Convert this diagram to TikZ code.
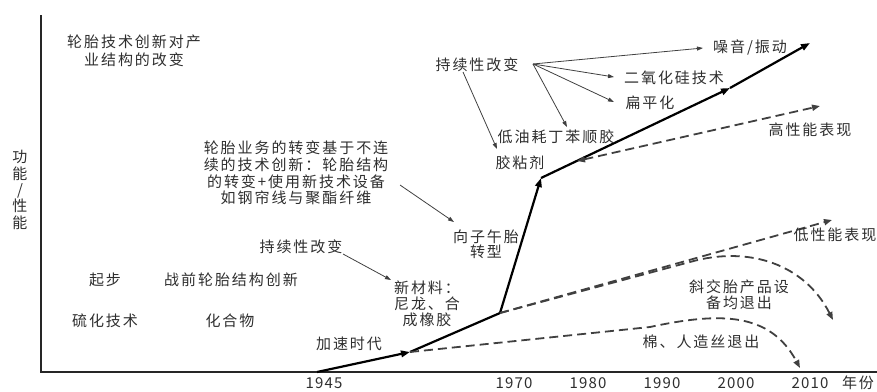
\documentclass[tikz,border=0pt]{standalone}
\usepackage{fontspec}
\usetikzlibrary{arrows.meta}
\newfontfamily\cjk{Noto Sans CJK SC}[LetterSpace=13]
\newfontfamily\cjknum{Noto Sans CJK SC}[LetterSpace=8]
\begin{document}
\begin{tikzpicture}[x=1pt,y=-1pt,
  lbl/.style={font=\cjk\fontsize{15}{17}\selectfont, text=black!82, inner sep=0pt, align=center},
  yr/.style={font=\cjknum\fontsize{15}{17}\selectfont, text=black!82, inner sep=0pt},
  axisline/.style={line width=2.4pt, black!85, line join=miter},
  mainline/.style={line width=2.2pt, black},
  mtip/.style={-{Triangle[length=9pt,width=6.5pt]}},
  dashline/.style={line width=1.8pt, black!75, dash pattern=on 9pt off 5pt},
  dtip/.style={-{Triangle[length=8pt,width=6pt]}},
  note/.style={line width=0.8pt, black!75, -{Triangle[length=6pt,width=4pt]}}
]
\useasboundingbox (0,0) rectangle (877,391);
% axes
\coordinate (ytop) at (41,15);
\coordinate (O) at (41,372);
\coordinate (xend) at (877,372);
\draw[axisline] (ytop) -- (O) -- (xend);

% year labels
\node[yr] (y1945) at (324,383) {1945};
\node[yr] (y1970) at (514,383) {1970};
\node[yr] (y1980) at (588,383) {1980};
\node[yr] (y1990) at (662,383) {1990};
\node[yr] (y2000) at (736,383) {2000};
\node[yr] (y2010) at (810,383) {2010};
\node[lbl] (nian) at (858,383) {年份};

% y axis label
\node[lbl, font=\cjk\fontsize{15}{16.3}\selectfont] (ylab) at (20,190) {功\\能\\/\\性\\能};

% main solid line
\coordinate (p0) at (317,372);
\coordinate (p1) at (410,352);
\coordinate (p2) at (500,313);
\coordinate (p3) at (541,178);
\coordinate (p4) at (730,88);
\coordinate (p5) at (810,43);
\draw[mainline, mtip] (p0) -- (p1);
\draw[mainline] (p1) -- (p2);
\draw[mainline, mtip] (p2) -- (p3);
\draw[mainline, mtip] (p3) -- (p4);
\draw[mainline, mtip] (p4) -- (p5);

% dashed lines
\coordinate (h0) at (577,161);
\coordinate (h1) at (820,106);
\draw[dashline, {Triangle[length=8pt,width=6pt]}-{Triangle[length=8pt,width=6pt]}] (h0) -- (h1);
\coordinate (lA) at (800,368);
\draw[dashline, dtip] (p1) -- (650,327) .. controls (720,312) and (770,312) .. (lA);
\coordinate (lB) at (832,220);
\draw[dashline, dtip] (p2) -- (lB);
\coordinate (lC) at (833,320);
\draw[dashline, dtip] (p2) -- (690,262) .. controls (750,245) and (805,265) .. (lC);

% texts
\node[lbl, font=\cjk\fontsize{15}{18}\selectfont] (tl) at (134,51) {轮胎技术创新对产\\业结构的改变};
\node[lbl, font=\cjk\fontsize{15}{16.8}\selectfont] (par) at (296,173) {轮胎业务的转变基于不连\\续的技术创新：轮胎结构\\的转变+使用新技术设备\\如钢帘线与聚酯纤维};
\node[lbl] (cx2) at (301,247) {持续性改变};
\node[lbl] (qb) at (105,280) {起步};
\node[lbl] (zq) at (231,280) {战前轮胎结构创新};
\node[lbl] (lh) at (105,321) {硫化技术};
\node[lbl] (hhw) at (230,321) {化合物};
\node[lbl] (js) at (349,344) {加速时代};
\node[lbl, font=\cjk\fontsize{15}{16}\selectfont] (xcl) at (427,304) {新材料：\\尼龙、合\\成橡胶};
\node[lbl, font=\cjk\fontsize{15}{15}\selectfont] (zwt) at (486,244.5) {向子午胎\\转型};
\node[lbl] (cx1) at (477,65) {持续性改变};
\node[lbl] (dyh) at (556,137) {低油耗丁苯顺胶};
\node[lbl] (jnj) at (520,163) {胶粘剂};
\node[lbl] (zy) at (750,47) {噪音/振动};
\node[lbl] (eyh) at (674,78) {二氧化硅技术};
\node[lbl] (bph) at (650,103) {扁平化};
\node[lbl] (gxn) at (810,130) {高性能表现};
\node[lbl] (dxn) at (835,235) {低性能表现};
\node[lbl, font=\cjk\fontsize{15}{16}\selectfont] (xjt) at (739,295) {斜交胎产品设\\备均退出};
\node[lbl] (mrz) at (701,342) {棉、人造丝退出};

% thin arrows
\coordinate (hub) at (533,64);
\coordinate (hubL) at (463,72);
\coordinate (a1) at (703,48);
\coordinate (a2) at (614,77);
\coordinate (a3) at (614,102);
\coordinate (a4) at (567,127);
\coordinate (a5) at (497,149);
\draw[note] (hub) -- (a1);
\draw[note] (hub) -- (a2);
\draw[note] (hub) -- (a3);
\draw[note] (hub) -- (a4);
\draw[note] (hubL) -- (a5);
\coordinate (b0) at (343,254);
\coordinate (b1) at (391,280);
\draw[note] (b0) -- (b1);
\coordinate (c0) at (400,185);
\coordinate (c1) at (454,222);
\draw[note] (c0) -- (c1);
\end{tikzpicture}
\end{document}
